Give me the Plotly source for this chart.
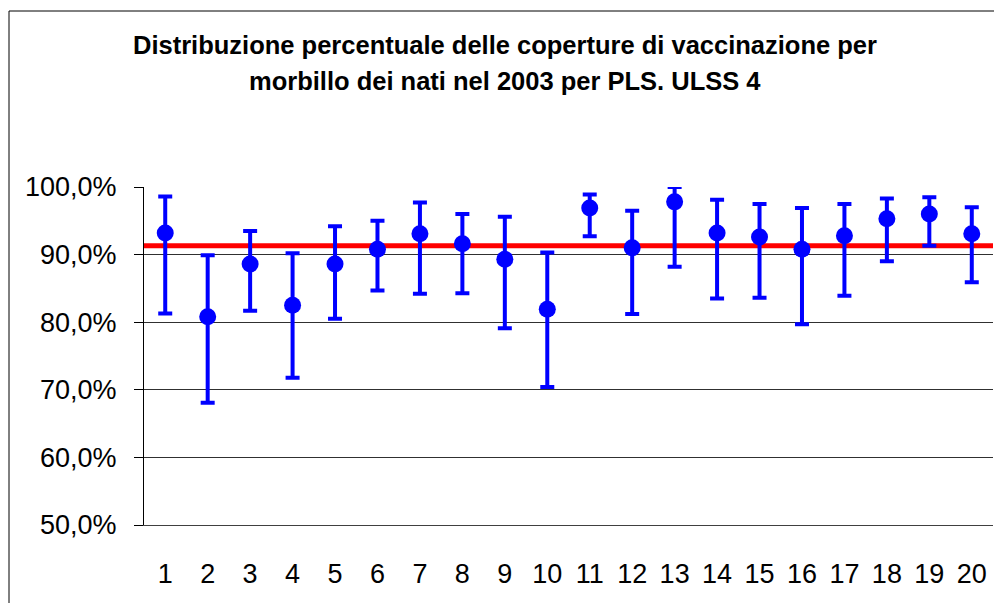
import plotly.graph_objects as go

# PLS 1..20
pls = list(range(1, 21))
copertura = [93.2, 80.8, 88.6, 82.5, 88.6, 90.8, 93.1, 91.6, 89.3, 81.9,
             96.9, 91.0, 97.8, 93.2, 92.6, 90.8, 92.8, 95.3, 96.0, 93.1]
limite_sup = [98.6, 89.9, 93.5, 90.2, 94.2, 95.0, 97.7, 96.0, 95.6, 90.3,
              98.9, 96.5, 100.0, 98.1, 97.5, 96.9, 97.5, 98.3, 98.5, 97.0]
limite_inf = [81.3, 68.1, 81.7, 71.8, 80.5, 84.7, 84.2, 84.3, 79.1, 70.4,
              92.7, 81.2, 88.2, 83.5, 83.6, 79.7, 83.9, 89.0, 91.3, 85.9]
media_ulss = 91.3

y_ticks = [50, 60, 70, 80, 90, 100]
y_labels = ["50,0%", "60,0%", "70,0%", "80,0%", "90,0%", "100,0%"]

FONT = "Liberation Sans, Arial, sans-serif"
W, H = 994, 603
L, R, T, B = 144, 1, 187, 78

err_plus = [s - v for s, v in zip(limite_sup, copertura)]
err_minus = [v - i for v, i in zip(copertura, limite_inf)]

pw = W - L - R
ph = H - T - B
bottom = H - B


def px(x_fig):
    return (x_fig - L) / pw


def py(y_fig):
    # da pixel della figura a coordinate paper
    return (bottom - y_fig) / ph


fig = go.Figure()

fig.add_trace(go.Scatter(
    x=pls, y=copertura, mode="markers",
    marker=dict(size=17, color="#0000FF"),
    error_y=dict(type="data", symmetric=False, array=err_plus, arrayminus=err_minus,
                 color="#0000FF", thickness=4, width=7),
    cliponaxis=False,
    showlegend=False,
))

# media ULSS
fig.add_hline(y=media_ulss, line=dict(color="#FF0000", width=5), layer="below")

# bordo dell'area del grafico: solo lato sinistro e superiore (il resto e' tagliato)
fig.add_shape(type="line", xref="paper", yref="paper",
              x0=px(9), x1=1.2, y0=py(11), y1=py(11),
              line=dict(color="black", width=1), layer="below")
fig.add_shape(type="line", xref="paper", yref="paper",
              x0=px(9), x1=px(9), y0=py(11), y1=-0.5,
              line=dict(color="black", width=1), layer="below")

fig.add_annotation(text="<b>Distribuzione percentuale delle coperture di vaccinazione per</b>",
                   xref="paper", yref="paper", x=px(505), y=py(45),
                   showarrow=False, font=dict(family=FONT, size=25.5, color="black"),
                   xanchor="center", yanchor="middle")
fig.add_annotation(text="<b>morbillo dei nati nel 2003 per PLS. ULSS 4</b>",
                   xref="paper", yref="paper", x=px(505), y=py(81),
                   showarrow=False, font=dict(family=FONT, size=25.5, color="black"),
                   xanchor="center", yanchor="middle")

fig.update_xaxes(range=[0.5, 20.5], tickvals=pls, ticktext=[str(p) for p in pls],
                 showgrid=False, zeroline=False, showline=True, linecolor="#404040",
                 linewidth=1, ticks="", ticklabelstandoff=25,
                 tickfont=dict(family=FONT, size=27, color="black"))
fig.update_yaxes(range=[50, 100], tickvals=y_ticks, ticktext=y_labels,
                 showgrid=True, gridcolor="#303030", gridwidth=1, zeroline=False,
                 showline=True, linecolor="black", linewidth=1,
                 ticks="outside", ticklen=9, tickcolor="black", ticklabelstandoff=12,
                 tickfont=dict(family=FONT, size=27, color="black"))

fig.update_layout(
    width=W, height=H, autosize=False,
    margin=dict(l=L, r=R, t=T, b=B),
    plot_bgcolor="white", paper_bgcolor="white",
    font=dict(family=FONT),
)

# niente margine del body, cosi' la figura riempie la finestra
fig.write_html("out.html", config={"displayModeBar": False},
               post_script="document.body.style.margin='0';document.body.style.overflow='hidden';")
